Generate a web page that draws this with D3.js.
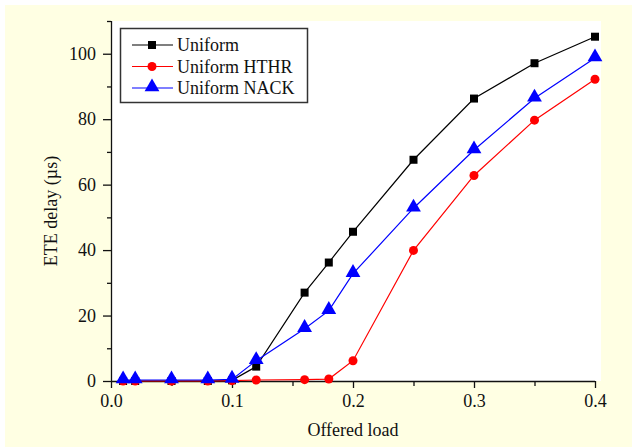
<!DOCTYPE html>
<html>
<head>
<meta charset="utf-8">
<script src="https://cdn.jsdelivr.net/npm/d3@7"></script>
<style>
  body { margin: 0; background: #fff; }
  svg { display: block; }
  svg text { font-family: 'Liberation Serif', 'Times New Roman', Times, 'DejaVu Serif', serif !important; fill: #111; }
</style>
</head>
<body>
<svg id="chart" width="632" height="447"></svg>
<script>
// data
var loads = [0.01, 0.02, 0.05, 0.08, 0.1, 0.12, 0.16, 0.18, 0.2, 0.25, 0.3, 0.35, 0.4];
var uniform = [0, 0, 0, 0, 0.2, 4.4, 27, 36.2, 45.6, 67.6, 86.3, 97.1, 105.2];
var uniformHTHR = [0, 0, 0, 0, 0.1, 0.3, 0.4, 0.6, 6.2, 39.9, 62.8, 79.7, 92.2];
var uniformNACK = [0.3, 0.3, 0.3, 0.3, 0.5, 6.2, 16, 21.5, 32.8, 52.8, 70.6, 86.4, 98.7];
var seriesNames = ["Uniform", "Uniform HTHR", "Uniform NACK"];
var xTicks = [0.0, 0.1, 0.2, 0.3, 0.4];
var yTicks = [0, 20, 40, 60, 80, 100];

var serif = "'Liberation Serif', 'Times New Roman', Times, 'DejaVu Serif', serif";
var svg = d3.select("#chart");

// page background, a thin white strip stays at top and left
svg.append("rect").attr("x", 5).attr("y", 5).attr("width", 627).attr("height", 442).attr("fill", "#ffffe3");

var margin = {left: 111, top: 21, right: 37, bottom: 66};
var width = 632 - margin.left - margin.right,
    height = 447 - margin.top - margin.bottom;

var x = d3.scaleLinear().domain([0, 0.4]).range([0, 484]);
var y = d3.scaleLinear().domain([0, 110]).range([height, 0]);

var g = svg.append("g").attr("transform", "translate(" + margin.left + "," + margin.top + ")");

// white plot area
g.append("rect").attr("x", 1).attr("y", 0).attr("width", 489).attr("height", height).attr("fill", "#fff");

// minor ticks first
var xMinor = g.append("g")
    .attr("transform", "translate(0," + height + ")")
    .call(d3.axisBottom(x).tickValues([0.05, 0.15, 0.25, 0.35]).tickSize(5).tickFormat(""));
xMinor.select(".domain").remove();

var yMinor = g.append("g")
    .call(d3.axisLeft(y).tickValues([10, 30, 50, 70, 90, 110]).tickSize(4).tickFormat(""));
yMinor.select(".domain").remove();

var xAxis = g.append("g")
    .attr("transform", "translate(0," + height + ")")
    .call(d3.axisBottom(x).tickValues(xTicks).tickSize(7).tickSizeOuter(0).tickPadding(6).tickFormat(d3.format(".1f")));

var yAxis = g.append("g")
    .call(d3.axisLeft(y).tickValues(yTicks).tickSize(8).tickSizeOuter(0).tickPadding(7));

[xAxis, yAxis, xMinor, yMinor].forEach(function (a) {
    a.attr("font-family", serif).attr("font-size", 18);
    a.selectAll("text").attr("fill", "#111");
    a.selectAll("line").attr("stroke", "#111").attr("stroke-width", 1.3);
    a.select(".domain").attr("stroke", "#111").attr("stroke-width", 1.3);
});
xAxis.select(".domain").attr("d", "M0,0.5H484");
yAxis.select(".domain").attr("d", "M0.5," + y(110) + "V" + height);

// axis titles
svg.append("text")
    .attr("x", 353)
    .attr("y", 436)
    .attr("text-anchor", "middle")
    .attr("font-family", serif)
    .attr("font-size", 18)
    .text("Offered load");

svg.append("text")
    .attr("transform", "translate(57,211) rotate(-90)")
    .attr("text-anchor", "middle")
    .attr("font-family", serif)
    .attr("font-size", 18)
    .text("ETE delay (µs)");

// series
var colors = ["#000000", "#ff0000", "#0000ff"];
var allData = [uniform, uniformHTHR, uniformNACK];

var line = d3.line()
    .x(function (d) { return x(d[0]); })
    .y(function (d) { return y(d[1]); });

var drawMarker = function (sel, i, px, py) {
    if (i == 0) {
        sel.append("rect").attr("x", px - 4).attr("y", py - 4).attr("width", 8).attr("height", 8).attr("fill", colors[i]);
    }
    else if (i == 1) {
        sel.append("circle").attr("cx", px).attr("cy", py).attr("r", 4.5).attr("fill", colors[i]);
    }
    else {
        sel.append("path")
            .attr("d", d3.symbol().type(d3.symbolTriangle).size(95)())
            .attr("transform", "translate(" + px + "," + (py - 1) + ")")
            .attr("fill", colors[i]);
    }
};

for (var i = 0; i < allData.length; i++) {
    var pts = loads.map(function (l, k) { return [l, allData[i][k]]; });
    g.append("path")
        .datum(pts)
        .attr("fill", "none")
        .attr("stroke", colors[i])
        .attr("stroke-width", 1.2)
        .attr("d", line);
    for (var k = 0; k < pts.length; k++) {
        drawMarker(g, i, x(pts[k][0]), y(pts[k][1]));
    }
}

// legend
var lg = svg.append("g").attr("transform", "translate(120,28)");
lg.append("rect").attr("x", 0.5).attr("y", 0.5).attr("width", 187).attr("height", 74)
    .attr("fill", "#fff").attr("stroke", "#333").attr("stroke-width", 1.5);

for (var j = 0; j < seriesNames.length; j++) {
    var ly = 17 + j * 21.5;
    lg.append("line").attr("x1", 12).attr("x2", 53).attr("y1", ly).attr("y2", ly)
        .attr("stroke", colors[j]).attr("stroke-width", 1.2);
    drawMarker(lg, j, 32, ly);
    lg.append("text")
        .attr("x", 57)
        .attr("y", ly + 6)
        .attr("font-family", serif)
        .attr("font-size", 18)
        .text(seriesNames[j]);
}
</script>
</body>
</html>
